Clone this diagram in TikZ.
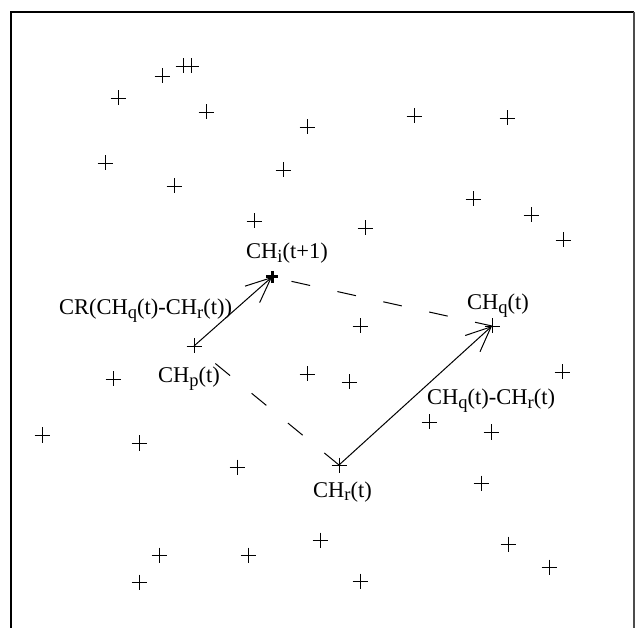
\documentclass[tikz,border=0pt]{standalone}
\usepackage{fontspec}
\setmainfont{Liberation Serif}
\usetikzlibrary{arrows.meta}
\newcommand{\sbs}[1]{\raisebox{-3.5pt}{\fontsize{18.5}{18.5}\selectfont #1}}
\tikzset{
  plus/.pic={\draw[line width=0.9pt] (-7.5,0) -- (7.5,0) (0,-7.5) -- (0,7.5);},
  bigplus/.pic={\draw[line width=3pt] (-6,0) -- (6,0) (0,-6) -- (0,6);},
  lbl/.style={anchor=base west, inner sep=0pt, font=\fontsize{22.5}{27}\selectfont},
  vec/.style={line width=1pt, -{Straight Barb[length=25pt,width=22pt,line width=1pt]}},
  gap/.style={line width=1pt, dash pattern=on 19pt off 28pt}
}
\begin{document}
\begin{tikzpicture}[x=1pt, y=-1pt]
  \useasboundingbox (0,0) rectangle (635,628);
  % frame, open at the bottom
  \draw[line width=1.6pt] (11,628) -- (11,12) -- (634,12);
  \draw[line width=1.2pt, black!70] (634,12) -- (634,628);

  \coordinate (chp) at (194,346);
  \coordinate (chq) at (492,326);
  \coordinate (chr) at (339,465);
  \coordinate (chi) at (272,277);

  % the other points
  \foreach \x/\y in {162/76, 183/66, 191/66, 118/98, 206/112, 307/127, 105/163,
      283/170, 174/186, 254/221, 414/116, 507/118, 473/199, 531/215, 365/228,
      563/240, 113/379, 307/374, 42/435, 139/443, 237/467, 159/555, 248/555,
      139/582, 320/540, 360/326, 349/382, 562/372, 429/422, 491/432, 481/483,
      508/544, 549/567, 360/581}
    \pic at (\x,\y) {plus};
  \pic at (chp) {plus};
  \pic at (chq) {plus};
  \pic at (chr) {plus};
  \pic at (chi) {bigplus};

  \draw[gap] (chr) -- (chp);
  \draw[gap, dash phase=27pt] (chi) -- (chq);
  \draw[vec] (chp) -- (chi);
  \draw[vec] (chr) -- (chq);

  \node[lbl] (li) at (246,259) {CH\sbs{i}(t+1)};
  \node[lbl] (lcr) at (59,315) {CR(CH\sbs{q}(t)-CH\sbs{r}(t))};
  \node[lbl] (lp) at (158,383) {CH\sbs{p}(t)};
  \node[lbl] (lq) at (467,310) {CH\sbs{q}(t)};
  \node[lbl] (ld) at (427,405) {CH\sbs{q}(t)-CH\sbs{r}(t)};
  \node[lbl] (lr) at (313,497) {CH\sbs{r}(t)};
\end{tikzpicture}
\end{document}
